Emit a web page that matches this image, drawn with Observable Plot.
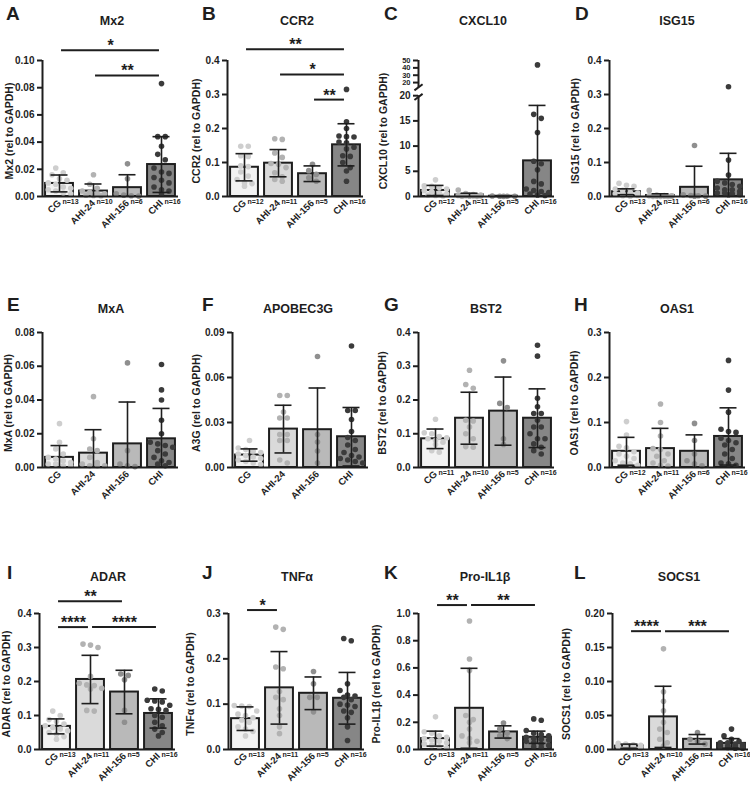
<!DOCTYPE html>
<html>
<head>
<meta charset="utf-8">
<script src="https://cdn.jsdelivr.net/npm/d3@7"></script>
<script src="https://cdn.jsdelivr.net/npm/@observablehq/plot@0.6"></script>
<style>
  body { margin: 0; background: #fff; }
  #fig { position: relative; width: 750px; height: 801px; overflow: hidden;
         font-family: "Liberation Sans", Arial, sans-serif; color: #1e1e1e; }
  .letter { position: absolute; font-weight: bold; font-size: 19px; line-height: 1; }
  .title { position: absolute; font-weight: bold; font-size: 12.5px; line-height: 1;
           transform: translateX(-50%); white-space: nowrap; }
  .ylab { position: absolute; font-weight: bold; font-size: 10.5px; line-height: 1; white-space: nowrap;
          transform: translate(-50%, -50%) rotate(-90deg); }
  .panel { position: absolute; }
</style>
</head>
<body>
<div id="fig"></div>
<script>
// ---- groups ---------------------------------------------------------------
const groups = ["CG", "AHI-24", "AHI-156", "CHI"];

// ---- A · Mx2 ----------------------------------------------------------------
const mx2Mean = [0.0096, 0.0040, 0.0065, 0.0235];
const mx2Sd   = [0.0062, 0.0052, 0.0095, 0.0205];
const mx2Dots = [
  [0.021, 0.0175, 0.016, 0.013, 0.012, 0.010, 0.009, 0.007, 0.006, 0.005, 0.004, 0.0025, 0.002],
  [0.016, 0.009, 0.006, 0.004, 0.003, 0.002, 0.002, 0.001, 0.0008, 0.0005],
  [0.024, 0.013, 0.002, 0.001, 0.0005, 0.0003],
  [0.083, 0.044, 0.044, 0.037, 0.031, 0.027, 0.021, 0.018, 0.017, 0.014, 0.012, 0.010, 0.007, 0.005, 0.004, 0.002]
];
const mx2Ticks = [0, 0.02, 0.04, 0.06, 0.08, 0.10];
const mx2Sig = [["CG", "CHI", "*"], ["AHI-24", "CHI", "**"]];

// ---- B · CCR2 ---------------------------------------------------------------
const ccr2Mean = [0.086, 0.098, 0.067, 0.152];
const ccr2Sd   = [0.040, 0.040, 0.023, 0.062];
const ccr2Dots = [
  [0.148, 0.148, 0.120, 0.118, 0.090, 0.088, 0.072, 0.060, 0.050, 0.040, 0.038, 0.030],
  [0.170, 0.168, 0.128, 0.115, 0.097, 0.095, 0.085, 0.070, 0.058, 0.050, 0.045],
  [0.095, 0.076, 0.065, 0.055, 0.045],
  [0.315, 0.220, 0.200, 0.178, 0.176, 0.175, 0.160, 0.158, 0.145, 0.140, 0.120, 0.118, 0.100, 0.085, 0.075, 0.045]
];
const ccr2Ticks = [0, 0.1, 0.2, 0.3, 0.4];
const ccr2Sig = [["CG", "CHI", "**"], ["AHI-24", "CHI", "*"], ["AHI-156", "CHI", "**"]];

// ---- C · CXCL10 (broken axis) ------------------------------------------------
const cxcl10Mean = [1.2, 0.3, 0.05, 7.07];
const cxcl10Sd   = [1.0, 0.35, 0.03, 11.0];
const cxcl10Dots = [
  [3.3, 2.1, 2.0, 1.8, 1.5, 1.2, 1.0, 0.7, 0.5, 0.3, 0.2, 0.1],
  [1.3, 0.6, 0.4, 0.3, 0.2, 0.15, 0.1, 0.1, 0.05, 0.05, 0.03],
  [0.1, 0.05, 0.04, 0.03, 0.02],
  [44, 16.3, 15.5, 12.7, 7.0, 6.5, 5.3, 3.0, 2.5, 1.5, 1.2, 1.0, 0.8, 0.5, 0.3, 0.2]
];
const cxcl10Ticks = [0, 5, 10, 15, 20];
const cxcl10TicksAbove = [20, 30, 40, 50];

// ---- D · ISG15 --------------------------------------------------------------
const isg15Mean = [0.014, 0.003, 0.027, 0.049];
const isg15Sd   = [0.0085, 0.005, 0.062, 0.078];
const isg15Dots = [
  [0.039, 0.033, 0.030, 0.022, 0.018, 0.012, 0.010, 0.008, 0.005, 0.004, 0.003, 0.002, 0.001],
  [0.018, 0.004, 0.003, 0.002, 0.002, 0.001, 0.001, 0.001, 0.0005, 0.0005, 0.0003],
  [0.150, 0.005, 0.003, 0.002, 0.001, 0.001],
  [0.323, 0.107, 0.063, 0.045, 0.040, 0.035, 0.030, 0.025, 0.020, 0.020, 0.015, 0.010, 0.010, 0.008, 0.006, 0.005]
];
const isg15Ticks = [0, 0.1, 0.2, 0.3, 0.4];

// ---- E · MxA ----------------------------------------------------------------
const mxaMean = [0.006, 0.0085, 0.014, 0.017];
const mxaSd   = [0.007, 0.0139, 0.0248, 0.018];
const mxaDots = [
  [0.026, 0.015, 0.011, 0.008, 0.006, 0.005, 0.004, 0.003, 0.002, 0.002, 0.001, 0.001],
  [0.042, 0.017, 0.011, 0.010, 0.006, 0.003, 0.002, 0.001, 0.001, 0.001],
  [0.062, 0.010, 0.002, 0.001, 0.0005],
  [0.061, 0.046, 0.040, 0.028, 0.020, 0.015, 0.014, 0.013, 0.012, 0.010, 0.008, 0.006, 0.004, 0.003, 0.002, 0.001]
];
const mxaTicks = [0, 0.02, 0.04, 0.06, 0.08];

// ---- F · APOBEC3G -----------------------------------------------------------
const a3gMean = [0.0083, 0.0256, 0.0252, 0.0205];
const a3gSd   = [0.0041, 0.0159, 0.0278, 0.0195];
const a3gDots = [
  [0.018, 0.013, 0.012, 0.011, 0.010, 0.009, 0.008, 0.007, 0.006, 0.005, 0.004, 0.003, 0.002],
  [0.048, 0.048, 0.037, 0.033, 0.033, 0.022, 0.022, 0.018, 0.018, 0.005, 0.003],
  [0.074, 0.022, 0.017, 0.011, 0.003],
  [0.081, 0.038, 0.038, 0.032, 0.024, 0.020, 0.018, 0.015, 0.012, 0.010, 0.008, 0.007, 0.006, 0.005, 0.004, 0.003]
];
const a3gTicks = [0, 0.03, 0.06, 0.09];

// ---- G · BST2 ---------------------------------------------------------------
const bst2Mean = [0.085, 0.146, 0.167, 0.146];
const bst2Sd   = [0.029, 0.077, 0.101, 0.087];
const bst2Dots = [
  [0.143, 0.103, 0.100, 0.092, 0.088, 0.085, 0.080, 0.075, 0.068, 0.050, 0.045],
  [0.288, 0.246, 0.235, 0.140, 0.138, 0.120, 0.100, 0.085, 0.062, 0.060],
  [0.316, 0.190, 0.178, 0.085, 0.068],
  [0.362, 0.330, 0.205, 0.180, 0.160, 0.160, 0.140, 0.120, 0.120, 0.100, 0.085, 0.085, 0.070, 0.060, 0.050, 0.040]
];
const bst2Ticks = [0, 0.1, 0.2, 0.3, 0.4];

// ---- H · OAS1 ---------------------------------------------------------------
const oas1Mean = [0.036, 0.042, 0.036, 0.069];
const oas1Sd   = [0.031, 0.045, 0.0365, 0.0636];
const oas1Dots = [
  [0.102, 0.072, 0.047, 0.044, 0.035, 0.030, 0.025, 0.020, 0.015, 0.010, 0.008, 0.005],
  [0.141, 0.100, 0.070, 0.042, 0.040, 0.030, 0.025, 0.015, 0.010, 0.005, 0.003],
  [0.098, 0.060, 0.030, 0.015, 0.008, 0.004],
  [0.238, 0.172, 0.123, 0.085, 0.080, 0.078, 0.065, 0.060, 0.055, 0.050, 0.040, 0.030, 0.020, 0.010, 0.008, 0.005]
];
const oas1Ticks = [0, 0.1, 0.2, 0.3];

// ---- I · ADAR ---------------------------------------------------------------
const adarMean = [0.068, 0.206, 0.169, 0.106];
const adarSd   = [0.022, 0.071, 0.064, 0.043];
const adarDots = [
  [0.113, 0.100, 0.088, 0.082, 0.075, 0.070, 0.065, 0.060, 0.055, 0.050, 0.045, 0.038, 0.030],
  [0.310, 0.307, 0.300, 0.215, 0.195, 0.190, 0.188, 0.180, 0.178, 0.115, 0.113],
  [0.222, 0.218, 0.205, 0.115, 0.080],
  [0.178, 0.172, 0.145, 0.143, 0.140, 0.130, 0.120, 0.118, 0.115, 0.100, 0.095, 0.080, 0.070, 0.060, 0.050, 0.040]
];
const adarTicks = [0, 0.1, 0.2, 0.3, 0.4];
const adarSig = [["CG", "AHI-156", "**"], ["CG", "AHI-24", "****"], ["AHI-24", "CHI", "****"]];

// ---- J · TNFα ---------------------------------------------------------------
const tnfMean = [0.068, 0.136, 0.124, 0.113];
const tnfSd   = [0.026, 0.080, 0.036, 0.057];
const tnfDots = [
  [0.097, 0.096, 0.095, 0.085, 0.078, 0.075, 0.070, 0.065, 0.060, 0.050, 0.045, 0.040, 0.030],
  [0.270, 0.265, 0.182, 0.178, 0.128, 0.115, 0.110, 0.090, 0.075, 0.050, 0.035],
  [0.172, 0.145, 0.115, 0.115, 0.083],
  [0.245, 0.240, 0.145, 0.130, 0.120, 0.118, 0.115, 0.110, 0.100, 0.098, 0.095, 0.085, 0.082, 0.070, 0.050, 0.020]
];
const tnfTicks = [0, 0.1, 0.2, 0.3];
const tnfSig = [["CG", "AHI-24", "*"]];

// ---- K · Pro-IL1β -----------------------------------------------------------
const il1bMean = [0.080, 0.303, 0.129, 0.090];
const il1bSd   = [0.055, 0.294, 0.045, 0.045];
const il1bDots = [
  [0.240, 0.130, 0.120, 0.100, 0.090, 0.080, 0.070, 0.060, 0.050, 0.040, 0.030, 0.020, 0.010],
  [0.945, 0.665, 0.580, 0.250, 0.220, 0.200, 0.150, 0.100, 0.080, 0.060, 0.050],
  [0.195, 0.150, 0.120, 0.100, 0.080],
  [0.225, 0.215, 0.140, 0.120, 0.110, 0.100, 0.090, 0.080, 0.075, 0.070, 0.060, 0.050, 0.040, 0.030, 0.020, 0.015]
];
const il1bTicks = [0, 0.2, 0.4, 0.6, 0.8, 1.0];
const il1bSig = [["CG", "AHI-24", "**"], ["AHI-24", "CHI", "**"]];

// ---- L · SOCS1 --------------------------------------------------------------
const socs1Mean = [0.0049, 0.048, 0.015, 0.009];
const socs1Sd   = [0.003, 0.045, 0.007, 0.007];
const socs1Dots = [
  [0.009, 0.008, 0.007, 0.006, 0.006, 0.005, 0.005, 0.004, 0.004, 0.003, 0.003, 0.002, 0.002],
  [0.148, 0.085, 0.071, 0.057, 0.040, 0.030, 0.025, 0.015, 0.010, 0.005],
  [0.025, 0.015, 0.012, 0.008],
  [0.030, 0.020, 0.015, 0.012, 0.010, 0.010, 0.008, 0.007, 0.006, 0.005, 0.005, 0.004, 0.004, 0.003, 0.002, 0.002]
];
const socs1Ticks = [0, 0.05, 0.10, 0.15, 0.20];
const socs1Sig = [["CG", "AHI-24", "****"], ["AHI-24", "CHI", "***"]];

// ---- styling --------------------------------------------------------------
const barFills = ["#f2f2f2", "#dadada", "#b9b9b9", "#868686"];
const dotFills = ["#cecece", "#b2b2b2", "#8f8f8f", "#3b3b3b"];
const INK = "#1e1e1e";
const DOT_R = 2.8, DOT_STEP = 7.5, ROW_MAX = 4;
const HALF_BAR = 0.41, HALF_CAP = 0.25, BRACKET_GAP = 0.06;
const PANEL_W = 188, PLOT_W = 136, MARGIN_BOTTOM = 48;

// broken y axis of the CXCL10 panel: values above 20 are compressed
const BREAK_AT = 20, BREAK_GAP = 2.6, ABOVE_SCALE = 0.146;
const above = v => BREAK_AT + BREAK_GAP + (v - BREAK_AT) * ABOVE_SCALE;
const cxclMap = v => (v <= BREAK_AT ? v : above(v));
const cxclUnmap = t => (t <= BREAK_AT + 1e-9 ? t : BREAK_AT + (t - BREAK_AT - BREAK_GAP) / ABOVE_SCALE);

// ---- layout ---------------------------------------------------------------
const rows = [
  {top: 0,   plotTop: 60,  plotBottom: 196, letterTop: 3.5, titleTop: 14.5},
  {top: 270, plotTop: 332, plotBottom: 467, letterTop: 294.5, titleTop: 302.5},
  {top: 555, plotTop: 613, plotBottom: 749, letterTop: 562.5, titleTop: 570.5}
];
const cols = [0, 187, 375, 562];
const f2 = d3.format(".2f"), f1 = d3.format(".1f");
const cxclFormat = t => String(Math.round(cxclUnmap(t)));

const panels = [
  {letter: "A", title: "Mx2", ylab: "Mx2 (rel to GAPDH)", mean: mx2Mean, sd: mx2Sd, dots: mx2Dots, ticks: mx2Ticks, format: f2,
   sig: mx2Sig, sigY: [0.1075, 0.089], row: 0, col: 0, axisX: 42, letterX: 6, titleX: 112, ylabX: 9, showN: true},
  {letter: "B", title: "CCR2", ylab: "CCR2 (rel to GAPDH)", mean: ccr2Mean, sd: ccr2Sd, dots: ccr2Dots, ticks: ccr2Ticks, format: f1,
   sig: ccr2Sig, sigY: [0.433, 0.359, 0.285], row: 0, col: 1, axisX: 227, letterX: 202, titleX: 297, ylabX: 196, showN: true},
  {letter: "C", title: "CXCL10", ylab: "CXCL10 (rel to GAPDH)", mean: cxcl10Mean, sd: cxcl10Sd, dots: cxcl10Dots,
   ticks: cxcl10Ticks, ticksAbove: cxcl10TicksAbove.map(above), format: cxclFormat, map: cxclMap,
   axisSegments: [[0, BREAK_AT], [above(BREAK_AT) - 1, above(50)]], breaks: [BREAK_AT - 0.25, above(BREAK_AT) - 0.94],
   row: 0, col: 2, axisX: 418, letterX: 384, titleX: 483, ylabX: 383, showN: true},
  {letter: "D", title: "ISG15", ylab: "ISG15 (rel to GAPDH)", mean: isg15Mean, sd: isg15Sd, dots: isg15Dots, ticks: isg15Ticks, format: f1,
   row: 0, col: 3, axisX: 609, letterX: 575, titleX: 677, ylabX: 575, showN: true},
  {letter: "E", title: "MxA", ylab: "MxA (rel to GAPDH)", mean: mxaMean, sd: mxaSd, dots: mxaDots, ticks: mxaTicks, format: f2,
   row: 1, col: 0, axisX: 42, letterX: 7, titleX: 111, ylabX: 8, showN: false},
  {letter: "F", title: "APOBEC3G", ylab: "A3G (rel to GAPDH)", mean: a3gMean, sd: a3gSd, dots: a3gDots, ticks: a3gTicks, format: f2,
   row: 1, col: 1, axisX: 232, letterX: 202, titleX: 298, ylabX: 196, showN: false},
  {letter: "G", title: "BST2", ylab: "BST2 (rel to GAPDH)", mean: bst2Mean, sd: bst2Sd, dots: bst2Dots, ticks: bst2Ticks, format: f1,
   row: 1, col: 2, axisX: 418, letterX: 384, titleX: 486, ylabX: 382, showN: true},
  {letter: "H", title: "OAS1", ylab: "OAS1 (rel to GAPDH)", mean: oas1Mean, sd: oas1Sd, dots: oas1Dots, ticks: oas1Ticks, format: f1,
   row: 1, col: 3, axisX: 609, letterX: 574, titleX: 677, ylabX: 574, showN: true},
  {letter: "I", title: "ADAR", ylab: "ADAR (rel to GAPDH)", mean: adarMean, sd: adarSd, dots: adarDots, ticks: adarTicks, format: f1,
   sig: adarSig, sigY: [0.436, 0.36, 0.36], row: 2, col: 0, axisX: 39, letterX: 7, titleX: 108, ylabX: 6, showN: true},
  {letter: "J", title: "TNFα", ylab: "TNFα (rel to GAPDH)", mean: tnfMean, sd: tnfSd, dots: tnfDots, ticks: tnfTicks, format: f1,
   sig: tnfSig, sigY: [0.3076], row: 2, col: 1, axisX: 228, letterX: 202, titleX: 297, ylabX: 190, showN: true},
  {letter: "K", title: "Pro-IL1β", ylab: "Pro-IL1β (rel to GAPDH)", mean: il1bMean, sd: il1bSd, dots: il1bDots, ticks: il1bTicks, format: f1,
   sig: il1bSig, sigY: [1.062, 1.062], row: 2, col: 2, axisX: 418, letterX: 384, titleX: 485, ylabX: 376, showN: true},
  {letter: "L", title: "SOCS1", ylab: "SOCS1 (rel to GAPDH)", mean: socs1Mean, sd: socs1Sd, dots: socs1Dots, ticks: socs1Ticks, format: f2,
   sig: socs1Sig, sigY: [0.174, 0.174], row: 2, col: 3, axisX: 612, letterX: 574, titleX: 679, ylabX: 566, showN: true}
];

// Prism-style scatter: sort descending, gather dots that would collide into rows, centre each row
function swarmOffsets(values, yPx) {
  const order = d3.range(values.length).sort((a, b) => values[b] - values[a]);
  const off = new Array(values.length).fill(0);
  let row = [];
  const place = () => {
    row.forEach((idx, k) => { off[idx] = (k - (row.length - 1) / 2) * DOT_STEP; });
    row = [];
  };
  for (const i of order) {
    if (row.length && (Math.abs(yPx(values[i]) - yPx(values[row[0]])) > DOT_R * 2 || row.length >= ROW_MAX)) place();
    row.push(i);
  }
  place();
  return off;
}

function renderPanel(p) {
  const row = rows[p.row];
  const left = cols[p.col];
  const ml = p.axisX - left;
  const mr = PANEL_W - ml - PLOT_W;
  const mt = row.plotTop - row.top;
  const plotH = row.plotBottom - row.plotTop;
  const height = row.plotBottom - row.top + MARGIN_BOTTOM;
  const map = p.map || (v => v);
  const yTop = d3.max([...p.ticks, ...(p.ticksAbove || [])]);
  const yPx = d3.scaleLinear([0, yTop], [plotH, 0]);
  const unit = PLOT_W / groups.length;
  const center = i => i + 0.5;

  const summary = groups.map((g, i) => ({
    i, g,
    mean: p.mean[i],
    lo: Math.max(0, p.mean[i] - p.sd[i]),
    hi: p.mean[i] + p.sd[i],
    lowCap: p.mean[i] - p.sd[i] > 0,
    n: p.dots[i].length
  }));
  const points = p.dots.flatMap((vals, i) => {
    const off = swarmOffsets(vals.map(map), yPx);
    return vals.map((v, k) => ({i, y: map(v), x: center(i) + off[k] / unit}));
  });
  const sig = (p.sig || []).map(([a, b, stars], k) => ({
    a: groups.indexOf(a), b: groups.indexOf(b), stars, level: p.sigY[k]
  }));

  const marks = [
    Plot.rect(summary, {
      x1: d => center(d.i) - HALF_BAR, x2: d => center(d.i) + HALF_BAR,
      y1: 0, y2: d => map(d.mean),
      fill: d => barFills[d.i], stroke: INK, strokeWidth: 2
    }),
    Plot.dot(points, {x: "x", y: "y", r: DOT_R, fill: d => dotFills[d.i], stroke: "none"}),
    Plot.ruleX(summary, {x: d => center(d.i), y1: d => map(d.lo), y2: d => map(d.hi), stroke: INK, strokeWidth: 1.6}),
    Plot.ruleY(summary, {y: d => map(d.hi), x1: d => center(d.i) - HALF_CAP, x2: d => center(d.i) + HALF_CAP, stroke: INK, strokeWidth: 1.6}),
    Plot.ruleY(summary.filter(d => d.lowCap), {y: d => map(d.lo), x1: d => center(d.i) - HALF_CAP, x2: d => center(d.i) + HALF_CAP, stroke: INK, strokeWidth: 1.6}),
    Plot.ruleX(p.axisSegments || [[0, yTop]], {x: 0, y1: d => d[0], y2: d => d[1], stroke: INK, strokeWidth: 2}),
    Plot.ruleY([0], {x1: 0, x2: groups.length, stroke: INK, strokeWidth: 2}),
    Plot.axisY({ticks: p.ticks, tickFormat: p.format, tickSize: 5, tickPadding: 3, strokeWidth: 2, label: null, fontSize: 10}),
    Plot.axisX({ticks: groups.map((g, i) => center(i)), tickFormat: d => groups[Math.floor(d)], tickRotate: -45,
                tickSize: 0, tickPadding: 5, label: null, fontSize: 9.5})
  ];
  if (p.ticksAbove) {
    // compressed upper segment above the axis break
    marks.push(Plot.axisY({ticks: p.ticksAbove, tickFormat: p.format, tickSize: 5, tickPadding: 3, strokeWidth: 2,
                           label: null, fontSize: 7.5}));
  }
  if (p.breaks) {
    marks.push(Plot.link(p.breaks, {x1: -0.12, x2: 0.12, y1: d => d - 0.6, y2: d => d + 0.6, stroke: INK, strokeWidth: 2}));
  }
  if (p.showN) {
    marks.push(Plot.text(summary, {x: d => center(d.i), y: 0, text: d => `n=${d.n}`, textAnchor: "start", lineAnchor: "top",
                                   dx: 3, dy: 3, fontSize: 7}));
  }
  if (sig.length) {
    marks.push(Plot.ruleY(sig, {y: "level", x1: d => center(d.a) + BRACKET_GAP, x2: d => center(d.b) - BRACKET_GAP,
                                stroke: INK, strokeWidth: 2}));
    marks.push(Plot.text(sig, {x: d => (center(d.a) + center(d.b)) / 2, y: "level", text: "stars",
                               lineAnchor: "bottom", dy: 1, fontSize: 16}));
  }

  const svg = Plot.plot({
    width: PANEL_W, height,
    marginLeft: ml, marginRight: mr, marginTop: mt, marginBottom: MARGIN_BOTTOM,
    x: {domain: [0, groups.length]},
    y: {domain: [0, yTop]},
    color: {type: "identity"},
    style: {fontFamily: "'Liberation Sans', Arial, sans-serif", fontWeight: "bold", fontSize: "10px",
            color: INK, background: "transparent", overflow: "visible"},
    marks
  });

  const fig = document.getElementById("fig");
  const holder = document.createElement("div");
  holder.className = "panel";
  holder.style.left = left + "px";
  holder.style.top = row.top + "px";
  holder.appendChild(svg);
  fig.appendChild(holder);

  const letter = document.createElement("div");
  letter.className = "letter";
  letter.textContent = p.letter;
  letter.style.left = p.letterX + "px";
  letter.style.top = row.letterTop + "px";
  fig.appendChild(letter);

  const title = document.createElement("div");
  title.className = "title";
  title.textContent = p.title;
  title.style.left = p.titleX + "px";
  title.style.top = row.titleTop + "px";
  fig.appendChild(title);

  const ylab = document.createElement("div");
  ylab.className = "ylab";
  ylab.textContent = p.ylab;
  ylab.style.left = p.ylabX + "px";
  ylab.style.top = (row.plotTop + row.plotBottom) / 2 + 3 + "px";
  fig.appendChild(ylab);
}

panels.forEach(renderPanel);
</script>
</body>
</html>
